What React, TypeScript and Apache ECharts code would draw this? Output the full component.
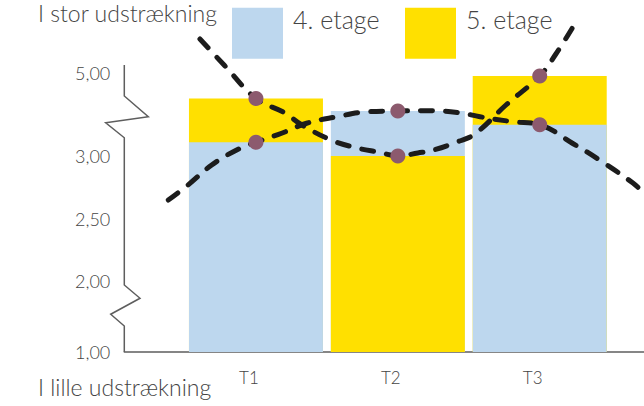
import React, { useEffect, useRef } from 'react';
import * as echarts from 'echarts';

// ---- data ----
const categories = ['T1', 'T2', 'T3'];
const categoryX = [1, 2, 3];
const seriesNames = ['4. etage', '5. etage'];
const etage4 = [3.11, 3.36, 3.25];
const etage5 = [3.46, 3.0, 3.64];

// dashed trend curves
const trend4: number[][] = [
  [0.382, 2.648], [0.521, 2.768], [0.688, 2.928], [0.864, 3.048], [1, 3.11],
  [1.181, 3.182], [1.357, 3.262], [1.569, 3.314], [1.78, 3.354], [2, 3.36],
  [2.249, 3.362], [2.438, 3.346], [2.579, 3.314], [2.811, 3.274], [3, 3.25],
  [3.233, 3.1], [3.41, 2.976], [3.657, 2.784], [3.734, 2.704], [3.8, 2.64],
];
const trend5: number[][] = [
  [0.605, 3.936], [0.782, 3.72], [1, 3.46], [1.204, 3.344], [1.324, 3.248],
  [1.529, 3.128], [1.698, 3.068], [1.874, 3.028], [2, 3.0], [2.141, 3.024],
  [2.24, 3.044], [2.416, 3.112], [2.543, 3.176], [2.762, 3.408], [3, 3.64],
  [3.114, 3.816], [3.234, 4.032],
];

const yTickLabels = ['1,00', '2,00', '2,50', '3,00', '5,00'];

// ---- axis geometry (broken axis) ----
const X_MIN = 0.072;
const X_MAX = 3.735;
const Y_MIN = 1.432; // where "1,00" sits (lower break)
const Y_MAX = 3.728;
const Y_TOP_LABEL = 3.664; // where "5,00" sits (upper break)
const yTickPos = [Y_MIN, 2, 2.5, 3, Y_TOP_LABEL];

const BLUE = '#bdd7ee';
const YELLOW = '#ffe000';
const DOT = '#8c5a6e';
const AXIS_COLOR = '#5e5e5e';
const TEXT = '#444444';
const FONT = 'Lato, "Open Sans", sans-serif';
const WEIGHT = 300;

// zigzag axis line: [pixel offset from axis, axis value]
const axisShape: number[][] = [
  [0, Y_MAX], [0, 3.48], [24, 3.314], [-18.6, 3.266], [0, 3.146],
  [0, 1.968], [15.7, 1.862], [-13.6, 1.734], [0, 1.64], [0, Y_MIN],
];

export default function App() {
  const ref = useRef<HTMLDivElement>(null);
  useEffect(() => {
    if (!ref.current) return;
    const chart = echarts.init(ref.current, undefined, { renderer: 'svg' });

    const colors = [BLUE, YELLOW];
    const values = [etage4, etage5];
    const barSeries: any[] = [];
    // back layer (larger value) and front layer (smaller value)
    [0, 1].forEach((layer) => {
      [0, 1].forEach((s) => {
        const other = values[1 - s];
        barSeries.push({
          type: 'bar',
          name: seriesNames[s],
          barWidth: 134,
          barGap: '-100%',
          z: 2 + layer,
          itemStyle: { color: colors[s] },
          data: values[s].map((v, i) => {
            const isBack = v >= other[i];
            return (layer === 0) === isBack ? [categoryX[i], v] : [categoryX[i], null];
          }),
        });
      });
    });

    const option: any = {
      animation: false,
      grid: { left: 124.3, right: 0, top: 65, bottom: 54, containLabel: false },
      legend: [0, 1].map((s) => ({
        data: [seriesNames[s]],
        left: s === 0 ? 232 : 405,
        top: 6.7,
        padding: 0,
        itemWidth: 51,
        itemHeight: 51,
        icon: 'rect',
        selectedMode: false,
        formatter: '{a|{name}}',
        textStyle: {
          rich: {
            a: { fontSize: 25, fontFamily: FONT, fontWeight: WEIGHT, color: TEXT, padding: [0, 0, 28, 5] },
          },
        },
      })),
      xAxis: {
        type: 'value',
        min: X_MIN,
        max: X_MAX,
        splitLine: { show: false },
        axisTick: { show: false },
        axisLine: { show: true, lineStyle: { color: AXIS_COLOR, width: 1.5 } },
        axisLabel: {
          customValues: categoryX,
          formatter: (v: number) => {
            const i = categoryX.findIndex((c) => Math.abs(c - v) < 1e-6);
            return i >= 0 ? categories[i] : '';
          },
          margin: 17,
          fontSize: 17,
          fontWeight: WEIGHT,
          color: TEXT,
          fontFamily: FONT,
          padding: [0, 14, 0, 0],
        },
      },
      yAxis: {
        type: 'value',
        min: Y_MIN,
        max: Y_MAX,
        splitLine: { show: false },
        axisTick: { show: false },
        axisLine: { show: false },
        axisLabel: {
          customValues: yTickPos,
          formatter: (v: number) => {
            let best = 0;
            yTickPos.forEach((p, i) => {
              if (Math.abs(p - v) < Math.abs(yTickPos[best] - v)) best = i;
            });
            return yTickLabels[best];
          },
          margin: 14,
          fontSize: 18,
          fontWeight: WEIGHT,
          color: TEXT,
          fontFamily: FONT,
        },
      },
      graphic: [
        {
          type: 'text',
          left: 38,
          top: 1,
          style: { text: 'I stor udstrækning', fontSize: 23, fontWeight: WEIGHT, fontFamily: FONT, fill: TEXT },
        },
        {
          type: 'text',
          left: 38,
          top: 375,
          style: { text: 'I lille udstrækning', fontSize: 23, fontWeight: WEIGHT, fontFamily: FONT, fill: TEXT },
        },
      ],
      series: [
        ...barSeries,
        {
          type: 'custom',
          name: 'axis',
          clip: false,
          silent: true,
          z: 5,
          data: [[X_MIN, Y_MIN]],
          renderItem: (_p: any, api: any) => {
            const pts = axisShape.map(([dx, y]) => {
              const c = api.coord([X_MIN, y]);
              return [c[0] + dx, c[1]];
            });
            return {
              type: 'polyline',
              shape: { points: pts },
              style: { stroke: AXIS_COLOR, lineWidth: 1.5, fill: null },
            };
          },
        },
        ...[trend4, trend5].map((t, k) => ({
          type: 'line',
          name: 'trend' + k,
          data: t,
          smooth: 0.4,
          clip: false,
          showSymbol: false,
          symbol: 'none',
          z: 6,
          lineStyle: { color: '#1c1c1c', width: 5, type: [12, 13], cap: 'round' },
        })),
        ...[etage4, etage5].map((vals, k) => ({
          type: 'scatter',
          name: 'points' + k,
          data: vals.map((v, i) => [categoryX[i], v]),
          symbolSize: 15,
          z: 7,
          itemStyle: { color: DOT, opacity: 1 },
        })),
      ],
    };
    chart.setOption(option);
    return () => chart.dispose();
  }, []);
  return (
    <div
      ref={ref}
      style={{ position: 'fixed', left: 0, top: 0, width: 644, height: 406, background: '#fff' }}
    />
  );
}
